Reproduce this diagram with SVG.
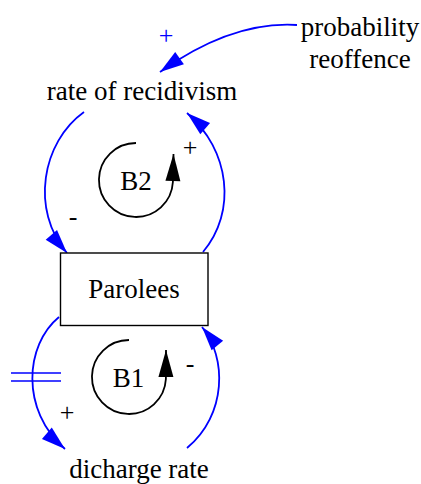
<svg xmlns="http://www.w3.org/2000/svg" width="421" height="484" viewBox="0 0 421 484">
  <defs>
    <marker id="ah" markerUnits="userSpaceOnUse" markerWidth="25" markerHeight="15" refX="24" refY="7.5" orient="auto" overflow="visible">
      <path d="M0,0 L24,7.5 L0,15 z" fill="#0000ff"/>
    </marker>
    <marker id="lh" markerUnits="userSpaceOnUse" markerWidth="28" markerHeight="15" refX="27" refY="7.5" orient="auto" overflow="visible">
      <path d="M0,0 L27,7.5 L0,15 z" fill="#000"/>
    </marker>
  </defs>
  <rect width="421" height="484" fill="#fff"/>

  <g id="connectors" fill="none" stroke="#0000ff" stroke-width="1.8">
    <path marker-end="url(#ah)" d="M297,25 C250,22 205,40 160,72"/>
    <path marker-end="url(#ah)" d="M84,112 C42,142 30,210 67,253"/>
    <path marker-end="url(#ah)" d="M203,252 C237,212 230,150 187,113"/>
    <path marker-end="url(#ah)" d="M59,317 C25,345 20,410 65,449"/>
    <path marker-end="url(#ah)" d="M187,448 C227,415 227,357 202,327"/>
    <line x1="11" y1="373" x2="61" y2="373" stroke-width="1.3"/>
    <line x1="11" y1="381" x2="61" y2="381" stroke-width="1.3"/>
  </g>

  <g id="polarities">
    <text x="166" y="44" font-size="26" font-family="Times New Roman, Tinos, Liberation Serif, serif" text-anchor="middle" fill="#0000ff">+</text>
    <text x="73" y="225" font-size="26" font-family="Times New Roman, Tinos, Liberation Serif, serif" text-anchor="middle" fill="#000">-</text>
    <text x="190" y="156" font-size="26" font-family="Times New Roman, Tinos, Liberation Serif, serif" text-anchor="middle" fill="#000">+</text>
    <text x="67" y="421" font-size="26" font-family="Times New Roman, Tinos, Liberation Serif, serif" text-anchor="middle" fill="#000">+</text>
    <text x="190" y="372" font-size="26" font-family="Times New Roman, Tinos, Liberation Serif, serif" text-anchor="middle" fill="#000">-</text>
  </g>

  <g id="probability-reoffence">
    <text x="360" y="35.5" font-size="27" font-family="Times New Roman, Tinos, Liberation Serif, serif" text-anchor="middle" fill="#000">probability</text>
    <text x="360" y="68" font-size="27" font-family="Times New Roman, Tinos, Liberation Serif, serif" text-anchor="middle" fill="#000">reoffence</text>
  </g>

  <g id="rate-of-recidivism">
    <text x="142" y="100" font-size="27" font-family="Times New Roman, Tinos, Liberation Serif, serif" text-anchor="middle" fill="#000">rate of recidivism</text>
  </g>

  <g id="parolees">
    <rect x="60.5" y="253" width="147.5" height="72.5" fill="#fff" stroke="#000" stroke-width="1.4"/>
    <text x="134" y="298" font-size="27" font-family="Times New Roman, Tinos, Liberation Serif, serif" text-anchor="middle" fill="#000">Parolees</text>
  </g>

  <g id="dicharge-rate">
    <text x="139" y="478" font-size="27" font-family="Times New Roman, Tinos, Liberation Serif, serif" text-anchor="middle" fill="#000">dicharge rate</text>
  </g>

  <g id="loop-B2">
    <path d="M136,143 A37,37 0 1 0 172.9,182 L173.5,154" fill="none" stroke="#000" stroke-width="1.8" marker-end="url(#lh)"/>
    <text x="136" y="190" font-size="27" font-family="Times New Roman, Tinos, Liberation Serif, serif" text-anchor="middle" fill="#000">B2</text>
  </g>

  <g id="loop-B1">
    <path d="M129,340 A37,37 0 1 0 165.9,379 L166,350" fill="none" stroke="#000" stroke-width="1.8" marker-end="url(#lh)"/>
    <text x="128.5" y="387" font-size="27" font-family="Times New Roman, Tinos, Liberation Serif, serif" text-anchor="middle" fill="#000">B1</text>
  </g>
</svg>
